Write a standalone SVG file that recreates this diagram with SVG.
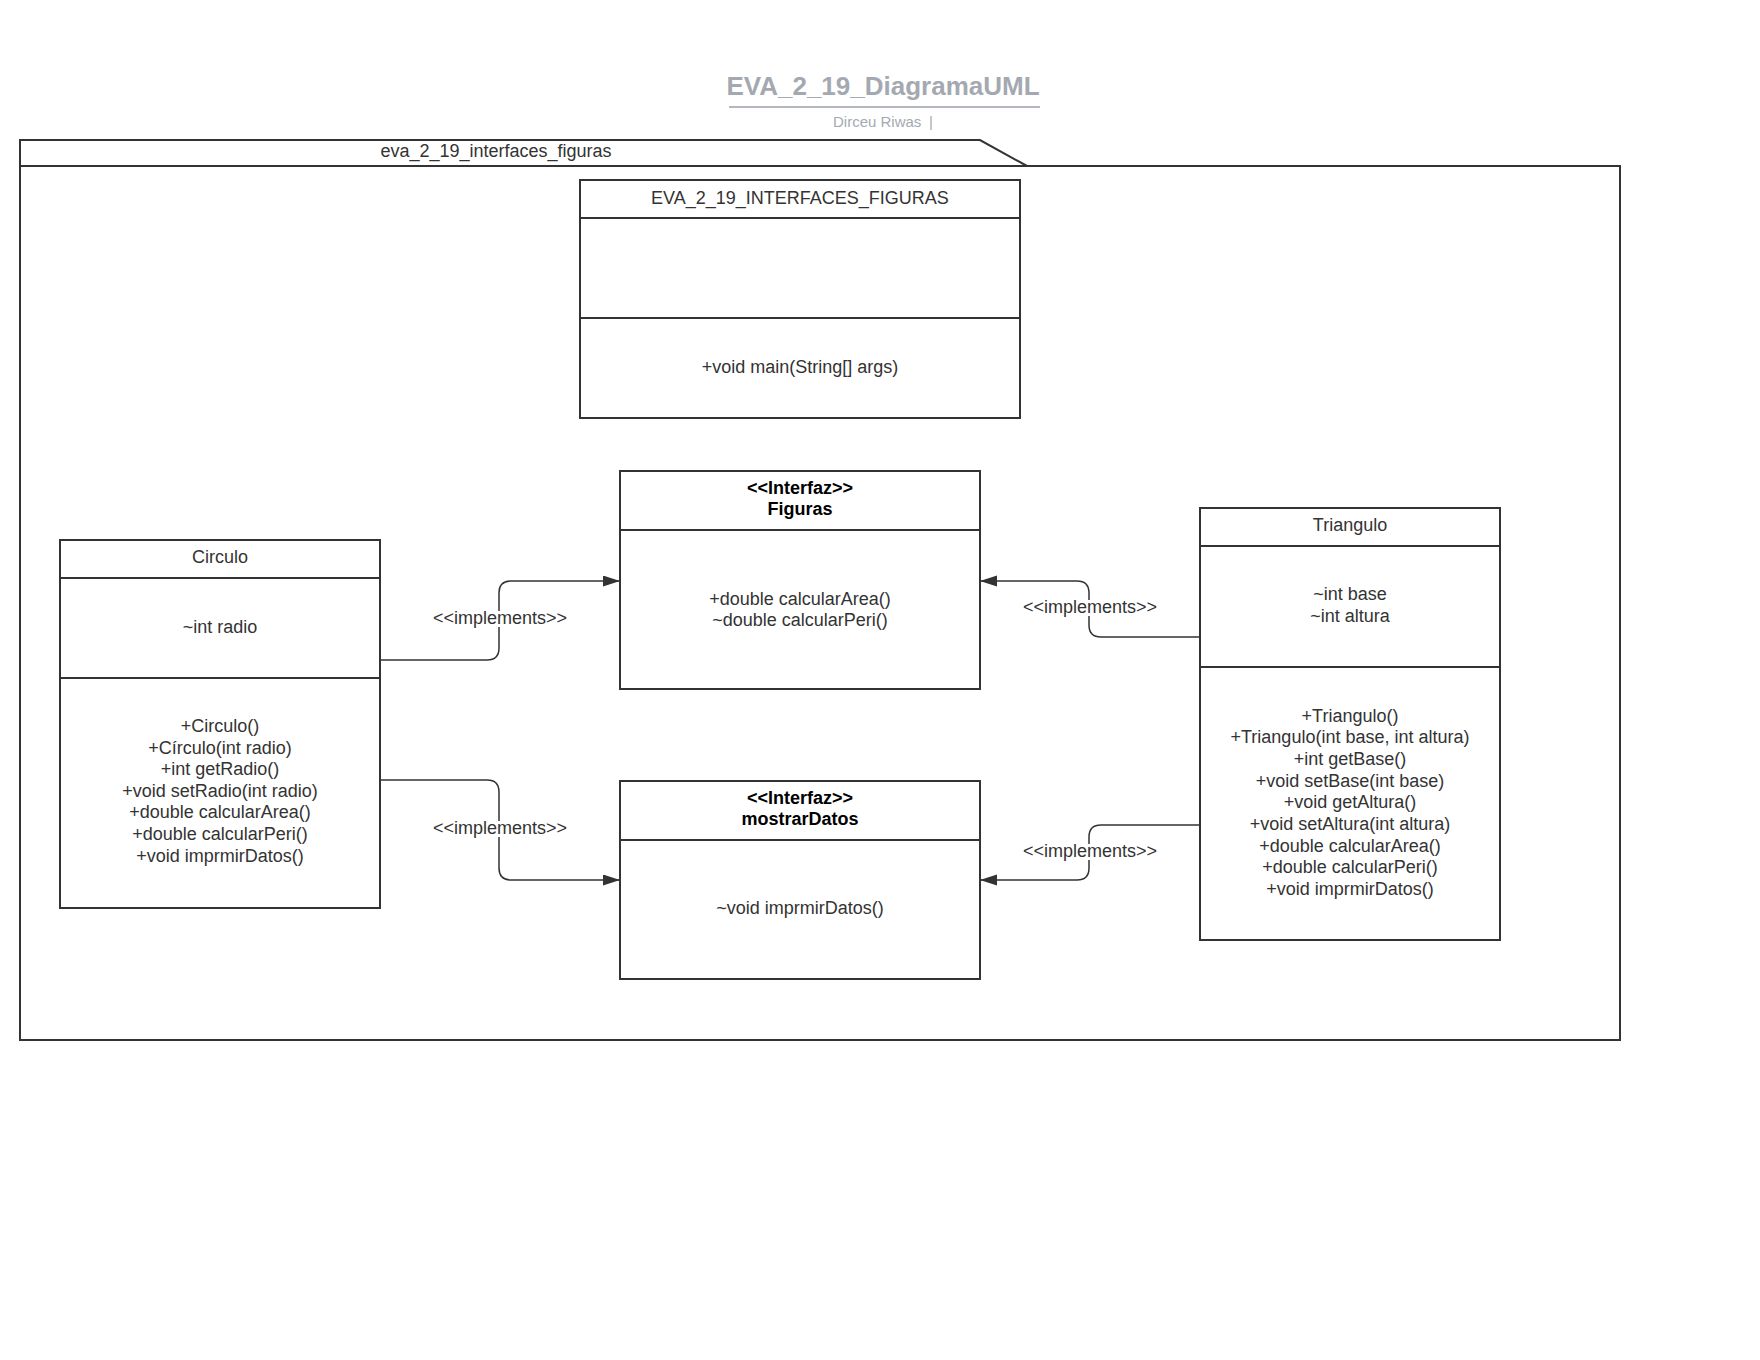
<svg xmlns="http://www.w3.org/2000/svg" width="1760" height="1360" viewBox="0 0 1760 1360">
<defs>
<style>
text{font-family:"Liberation Sans",Arial,Helvetica,sans-serif;fill:#333333;font-size:18px;text-anchor:middle}
.b{font-weight:bold;fill:#000000}
.box{fill:#ffffff;stroke:#333333;stroke-width:2}
.ln{fill:none;stroke:#333333;stroke-width:2}
.conn{fill:none;stroke:#333333;stroke-width:1.5}
.lblbg{fill:#ffffff}
.title{font-size:26px;font-weight:bold;fill:#a4a9b1}
.sub{font-size:15px;fill:#a4a9b1;text-anchor:start}
</style>
<marker id="arr" markerUnits="userSpaceOnUse" markerWidth="18" markerHeight="12" refX="17" refY="5.5" orient="auto">
<path d="M0,0 L17,5.5 L0,11 z" fill="#333333"/>
</marker>
</defs>
<rect width="1760" height="1360" fill="#ffffff"/>

<g id="title">
<text class="title" x="883" y="94.5">EVA_2_19_DiagramaUML</text>
<line x1="729" y1="107" x2="1040" y2="107" stroke="#b3b8c0" stroke-width="2"/>
<text class="sub" x="833" y="127">Dirceu Riwas</text>
<text class="sub" x="929" y="127">|</text>
</g>

<g id="package">
<path class="ln" d="M20,166 V140 H980 L1027,166"/>
<rect class="box" x="20" y="166" width="1600" height="874" fill="none"/>
<text x="496" y="157">eva_2_19_interfaces_figuras</text>
</g>

<g id="main-class">
<rect class="box" x="580" y="180" width="440" height="238"/>
<line class="ln" x1="580" y1="218" x2="1020" y2="218"/>
<line class="ln" x1="580" y1="318" x2="1020" y2="318"/>
<text x="800" y="204">EVA_2_19_INTERFACES_FIGURAS</text>
<text x="800" y="373">+void main(String[] args)</text>
</g>

<g id="figuras">
<rect class="box" x="620" y="471" width="360" height="218"/>
<line class="ln" x1="620" y1="530" x2="980" y2="530"/>
<text class="b" x="800" y="494">&lt;&lt;Interfaz&gt;&gt;</text>
<text class="b" x="800" y="515">Figuras</text>
<text x="800" y="605">+double calcularArea()</text>
<text x="800" y="626">~double calcularPeri()</text>
</g>

<g id="mostrarDatos">
<rect class="box" x="620" y="781" width="360" height="198"/>
<line class="ln" x1="620" y1="840" x2="980" y2="840"/>
<text class="b" x="800" y="804">&lt;&lt;Interfaz&gt;&gt;</text>
<text class="b" x="800" y="825">mostrarDatos</text>
<text x="800" y="914">~void imprmirDatos()</text>
</g>

<g id="circulo">
<rect class="box" x="60" y="540" width="320" height="368"/>
<line class="ln" x1="60" y1="578" x2="380" y2="578"/>
<line class="ln" x1="60" y1="678" x2="380" y2="678"/>
<text x="220" y="563">Circulo</text>
<text x="220" y="632.5">~int radio</text>
<text x="220" y="732">+Circulo()</text>
<text x="220" y="753.6">+Círculo(int radio)</text>
<text x="220" y="775.2">+int getRadio()</text>
<text x="220" y="796.8">+void setRadio(int radio)</text>
<text x="220" y="818.4">+double calcularArea()</text>
<text x="220" y="840">+double calcularPeri()</text>
<text x="220" y="861.6">+void imprmirDatos()</text>
</g>

<g id="triangulo">
<rect class="box" x="1200" y="508" width="300" height="432"/>
<line class="ln" x1="1200" y1="546" x2="1500" y2="546"/>
<line class="ln" x1="1200" y1="667" x2="1500" y2="667"/>
<text x="1350" y="531">Triangulo</text>
<text x="1350" y="600">~int base</text>
<text x="1350" y="621.7">~int altura</text>
<text x="1350" y="721.7">+Triangulo()</text>
<text x="1350" y="743.4">+Triangulo(int base, int altura)</text>
<text x="1350" y="765">+int getBase()</text>
<text x="1350" y="786.7">+void setBase(int base)</text>
<text x="1350" y="808.4">+void getAltura()</text>
<text x="1350" y="830">+void setAltura(int altura)</text>
<text x="1350" y="851.7">+double calcularArea()</text>
<text x="1350" y="873.4">+double calcularPeri()</text>
<text x="1350" y="895">+void imprmirDatos()</text>
</g>

<g id="connectors">
<path class="conn" d="M380,660 H487 Q499,660 499,648 V593 Q499,581 511,581 H620" marker-end="url(#arr)"/>
<rect class="lblbg" x="433" y="611" width="134" height="16"/>
<text x="500" y="624">&lt;&lt;implements&gt;&gt;</text>

<path class="conn" d="M380,780 H487 Q499,780 499,792 V868 Q499,880 511,880 H620" marker-end="url(#arr)"/>
<rect class="lblbg" x="433" y="821" width="134" height="16"/>
<text x="500" y="834">&lt;&lt;implements&gt;&gt;</text>

<path class="conn" d="M1200,637 H1101 Q1089,637 1089,625 V593 Q1089,581 1077,581 H980" marker-end="url(#arr)"/>
<rect class="lblbg" x="1023" y="600" width="134" height="16"/>
<text x="1090" y="613">&lt;&lt;implements&gt;&gt;</text>

<path class="conn" d="M1200,825 H1101 Q1089,825 1089,837 V868 Q1089,880 1077,880 H980" marker-end="url(#arr)"/>
<rect class="lblbg" x="1023" y="844" width="134" height="16"/>
<text x="1090" y="857">&lt;&lt;implements&gt;&gt;</text>
</g>
</svg>
